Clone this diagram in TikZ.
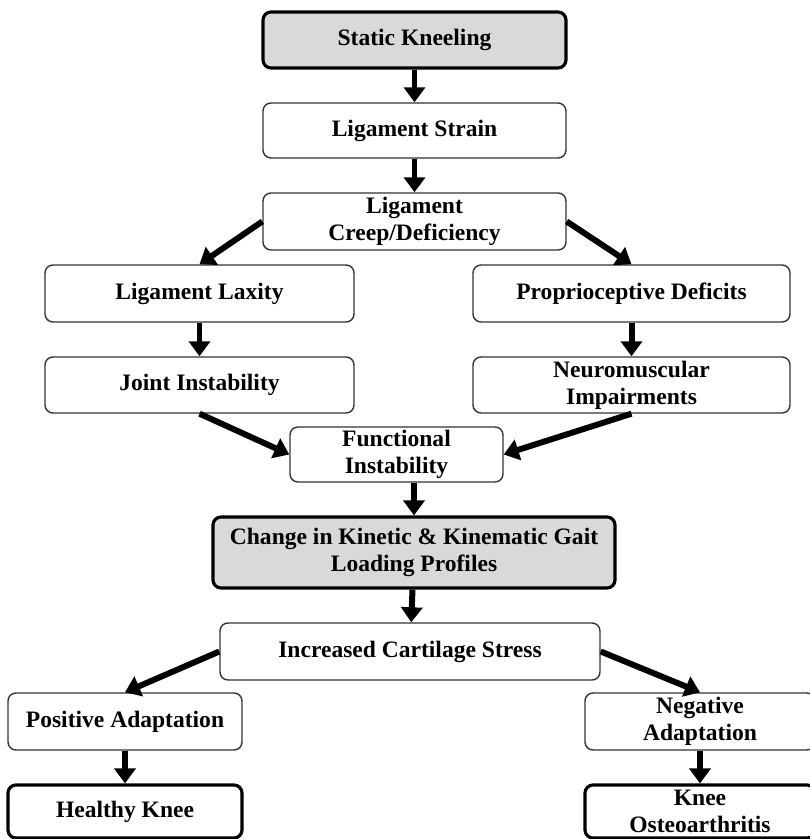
\documentclass[tikz,border=0pt]{standalone}
\usepackage{fontspec}
\setmainfont{Liberation Serif}
\usepackage{tikz}
\usetikzlibrary{shapes,arrows.meta}
\tikzset{
  box/.style={shape=rectangle,rounded corners=0.16cm,draw=black!80,line width=0.8pt,align=center,inner sep=0pt,font=\bfseries\fontsize{13.4}{15.4}\selectfont},
  keybox/.style={box,fill=black!15,draw=black,line width=1.8pt},
  endbox/.style={box,draw=black,line width=1.8pt},
  flow/.style={-{Triangle[length=0.3cm,width=0.42cm]},draw=black,line width=3.4pt}
}

\begin{document}
\begin{tikzpicture}
\useasboundingbox (0,0) rectangle (16.18,16.78);
\node[keybox,minimum width=6.06cm,minimum height=1.12cm] (0) at (8.29,15.98) {Static Kneeling};
\node[box,minimum width=6.06cm,minimum height=1.1cm] (1) at (8.29,14.17) {Ligament Strain};
\node[box,minimum width=6.06cm,minimum height=1.14cm] (2) at (8.29,12.35) {Ligament\\Creep/Deficiency};
\node[box,minimum width=6.18cm,minimum height=1.14cm] (3) at (3.99,10.91) {Ligament Laxity};
\node[box,minimum width=6.18cm,minimum height=1.12cm] (4) at (3.99,9.08) {Joint Instability};
\node[box,minimum width=6.34cm,minimum height=1.14cm] (5) at (12.63,10.91) {Proprioceptive Deficits};
\node[box,minimum width=6.34cm,minimum height=1.12cm] (6) at (12.63,9.08) {Neuromuscular\\Impairments};
\node[box,minimum width=4.26cm,minimum height=1.1cm] (7) at (7.93,7.69) {Functional\\Instability};
\node[keybox,minimum width=8.04cm,minimum height=1.42cm] (8) at (8.28,5.73) {Change in Kinetic \& Kinematic Gait\\Loading Profiles};
\node[box,minimum width=7.6cm,minimum height=1.14cm] (9) at (8.2,3.75) {Increased Cartilage Stress};
\node[box,minimum width=4.68cm,minimum height=1.14cm] (10) at (2.5,2.35) {Positive Adaptation};
\node[endbox,minimum width=4.68cm,minimum height=1.06cm] (11) at (2.5,0.55) {Healthy Knee};
\node[box,minimum width=4.6cm,minimum height=1.14cm] (12) at (14.0,2.35) {Negative\\Adaptation};
\node[endbox,minimum width=4.6cm,minimum height=1.06cm] (13) at (14.0,0.55) {Knee\\Osteoarthritis};

\draw [flow] (0) -- (1);
\draw [flow] (1) -- (2);
\draw [flow] (2.west) -- (3.north);
\draw [flow] (2.east) -- (5.north);
\draw [flow] (3) -- (4);
\draw [flow] (5) -- (6);
\draw [flow] (4.south) -- (7.west);
\draw [flow] (6.south) -- (7.east);
\draw [flow] (8.north |- 7.south) -- (8.north);
\draw [flow] (8) -- (9);
\draw [flow] (9.west) -- (10.north);
\draw [flow] (9.east) -- (12.north);
\draw [flow] (10) -- (11);
\draw [flow] (12) -- (13);
\end{tikzpicture}
\end{document}
